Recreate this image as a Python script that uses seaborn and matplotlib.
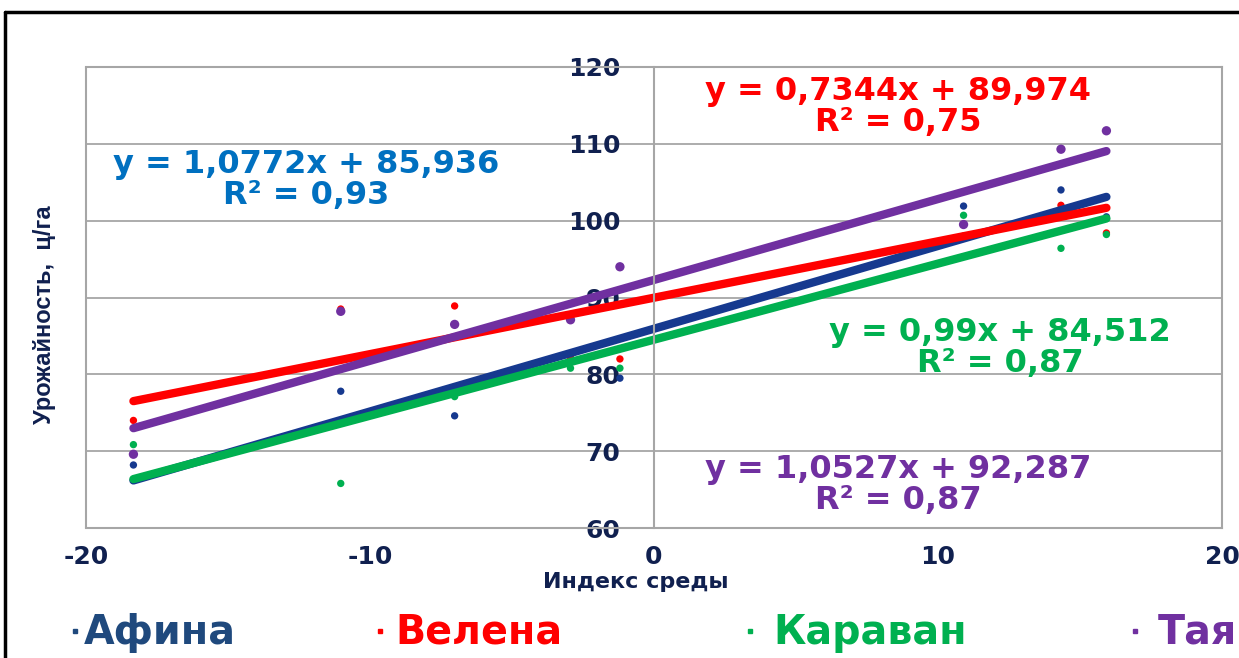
import matplotlib
matplotlib.use("Agg")
import matplotlib.pyplot as plt
from matplotlib.lines import Line2D
import numpy as np
import pandas as pd
import seaborn as sns

# Environment index and yields (c/ha) per variety
env_index = [-18.33, -11.03, -7.02, -2.94, -1.2, 10.9, 14.33, 15.93]
afina = [68.2, 77.8, 74.6, 82.5, 79.5, 101.9, 104.0, 100.5]
velena = [74.0, 88.5, 88.9, 82.1, 82.0, 98.0, 102.0, 98.4]
karavan = [70.85, 65.8, 77.1, 80.8, 80.8, 100.7, 96.4, 98.2]
taya = [69.6, 88.2, 86.5, 87.1, 94.0, 99.5, 109.3, 111.7]

varieties = ["Афина", "Велена", "Караван", "Тая"]
slopes = [1.0772, 0.7344, 0.99, 1.0527]
intercepts = [85.936, 89.974, 84.512, 92.287]
r_squared = ["0,93", "0,75", "0,87", "0,87"]

x_ticks = [-20, -10, 0, 10, 20]
y_ticks = [60, 70, 80, 90, 100, 110, 120]

colors = {"Афина": "#16398F", "Велена": "#FF0000", "Караван": "#00B050", "Тая": "#7030A0"}
legend_colors = {"Афина": "#1F497D", "Велена": "#FF0000", "Караван": "#00B050", "Тая": "#7030A0"}
eq_colors = {"Афина": "#0070C0", "Велена": "#FF0000", "Караван": "#00B050", "Тая": "#7030A0"}
label_color = "#10204F"
grid_color = "#A6A6A6"

sns.set_style("white")
plt.rcParams["font.family"] = ["DejaVu Sans"]
plt.rcParams["axes.unicode_minus"] = False

W, H = 1239, 658
fig = plt.figure(figsize=(W / 100, H / 100), dpi=100)
px = lambda x: x / W
py = lambda y: 1 - y / H
ax = fig.add_axes([px(86), py(528), px(1222) - px(86), py(67) - py(528)])

points = pd.DataFrame({
    "env": np.tile(env_index, 4),
    "yield": np.concatenate([afina, velena, karavan, taya]),
    "variety": np.repeat(varieties, len(env_index)),
})

# Linear trends from the fitted equations
x_span = [min(env_index), max(env_index)]
trend = pd.DataFrame({
    "env": np.tile(x_span, 4),
    "yield": [b + k * x for k, b in zip(slopes, intercepts) for x in x_span],
    "variety": np.repeat(varieties, 2),
})

sns.scatterplot(data=points, x="env", y="yield", hue="variety", palette=colors,
                size="variety", sizes={"Афина": 28, "Велена": 28, "Караван": 28, "Тая": 45},
                linewidth=0, legend=False, ax=ax, zorder=1)
sns.lineplot(data=trend, x="env", y="yield", hue="variety", palette=colors,
             linewidth=6, sort=False, legend=False, ax=ax, zorder=2)
for line in ax.lines:
    line.set_solid_capstyle("round")

ax.set_xlim(-20, 20)
ax.set_ylim(60, 120)
ax.set_xticks(x_ticks)
ax.set_yticks(y_ticks)
ax.set_xticklabels([str(v) for v in x_ticks])
ax.set_yticklabels([str(v) for v in y_ticks])

for y in y_ticks[1:-1]:
    ax.axhline(y, color=grid_color, lw=1.3, zorder=0)
for s in ["top", "right", "bottom"]:
    ax.spines[s].set_color(grid_color)
    ax.spines[s].set_linewidth(1.5)
ax.spines["left"].set_position(("data", 0))
ax.spines["left"].set_color(grid_color)
ax.spines["left"].set_linewidth(1.5)
# left frame of the plot area
ax.add_line(Line2D([0, 0], [0, 1], transform=ax.transAxes, color=grid_color, lw=1.5, clip_on=False))

ax.tick_params(axis="both", length=0, labelsize=18, labelcolor=label_color)
ax.tick_params(axis="x", pad=12)
ax.tick_params(axis="y", pad=24)
for t in ax.get_xticklabels() + ax.get_yticklabels():
    t.set_fontweight("bold")

ax.set_xlabel("Индекс среды", fontsize=16, fontweight="bold", color=label_color)
ax.xaxis.set_label_coords((636 - 86) / 1136, (528 - 582) / 461)
ax.xaxis.label.set_va("center")
ax.set_ylabel("Урожайность,  ц/га", fontsize=17, fontweight="bold", color=label_color,
              family="Liberation Sans")
ax.yaxis.set_label_coords((45 - 86) / 1136, (528 - 315) / 461)
ax.yaxis.label.set_va("center")

# Trend equations
eq_pos = [(306, 180), (898, 107), (1000, 348), (898, 485)]
for name, k, b, r2, (ex, ey) in zip(varieties, slopes, intercepts, r_squared, eq_pos):
    ks = f"{k:g}".replace(".", ",")
    bs = f"{b:g}".replace(".", ",")
    fig.text(px(ex), py(ey), f"y = {ks}x + {bs}\nR² = {r2}", ha="center", va="center",
             fontsize=23, fontweight="bold", color=eq_colors[name], linespacing=0.98)

# Legend row
leg_marker_x = [75, 380, 750, 1135]
leg_text_x = [84, 395, 773, 1158]
for name, mx, tx in zip(varieties, leg_marker_x, leg_text_x):
    fig.add_artist(Line2D([px(mx)], [py(631)], marker="s", markersize=3.5, linestyle="none",
                          color=legend_colors[name]))
    fig.text(px(tx), py(633), name, ha="left", va="center", fontsize=28.5,
             fontweight="bold", color=legend_colors[name])

# Outer chart frame
fig.add_artist(Line2D([px(5), px(5)], [0, py(12)], color="black", lw=2.5))
fig.add_artist(Line2D([px(5), 1.0], [py(12), py(12)], color="black", lw=2.5))

fig.savefig("out.png", dpi=100)
